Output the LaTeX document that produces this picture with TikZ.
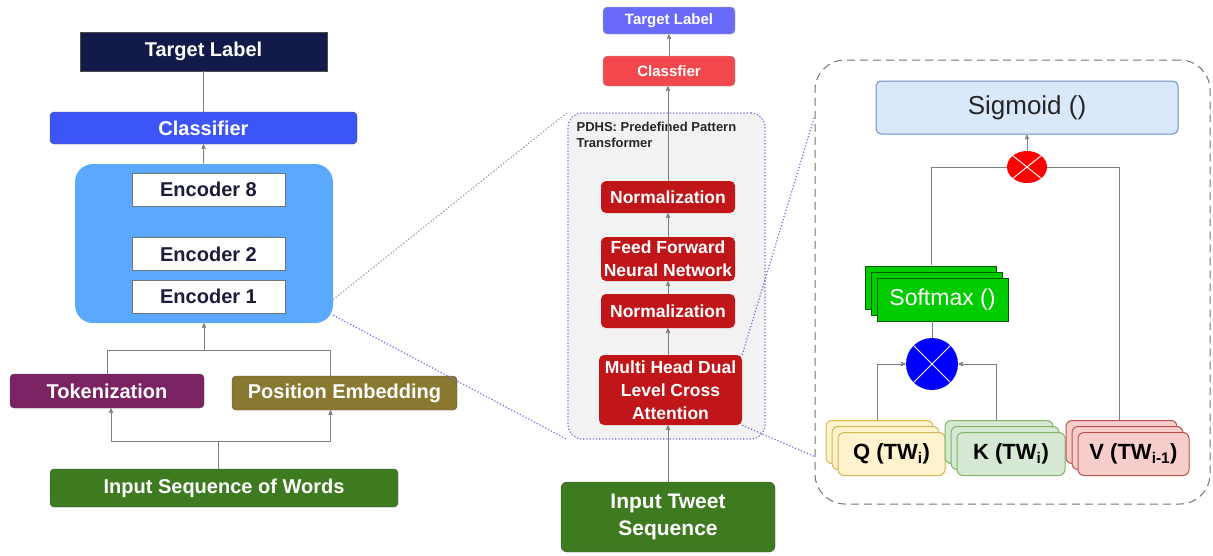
\documentclass[tikz,border=0pt]{standalone}
\usepackage{fontspec}
\setmainfont{Liberation Sans}
\usetikzlibrary{positioning}
\usetikzlibrary{arrows}
\usetikzlibrary{shapes.geometric}
\usetikzlibrary{shadows}
\definecolor{navyLab}{RGB}{17,26,72}
\definecolor{clsBlue}{RGB}{59,85,247}
\definecolor{encBlue}{RGB}{90,169,255}
\definecolor{encText}{RGB}{27,27,58}
\definecolor{tokPurple}{RGB}{123,34,99}
\definecolor{posOlive}{RGB}{136,120,48}
\definecolor{inGreen}{RGB}{62,122,31}
\definecolor{tgtViolet}{RGB}{106,106,248}
\definecolor{cfRed}{RGB}{242,71,76}
\definecolor{boxRed}{RGB}{192,22,26}
\definecolor{zoomBlue}{RGB}{110,110,220}
\definecolor{sigFill}{RGB}{218,232,252}
\definecolor{sigDraw}{RGB}{108,142,191}
\definecolor{smxGreen}{RGB}{0,204,0}
\definecolor{smxDraw}{RGB}{0,90,0}
\definecolor{qFill}{RGB}{255,242,204}
\definecolor{qDraw}{RGB}{214,182,86}
\definecolor{kFill}{RGB}{213,232,212}
\definecolor{kDraw}{RGB}{130,179,102}
\definecolor{vFill}{RGB}{248,206,204}
\definecolor{vDraw}{RGB}{184,84,80}
\tikzset{
    leftbox/.style={
        rectangle,
        rounded corners=4pt,
        draw=black!70,
        text=white,
        align=center,
        inner sep=0pt,
        font=\bfseries\fontsize{20}{24}\selectfont},
    encoder/.style={
        rectangle,
        draw=black!55,
        fill=white,
        text=encText,
        minimum width=153,
        minimum height=33,
        font=\bfseries\fontsize{20}{24}\selectfont},
    redbox/.style={
        rectangle,
        rounded corners=5pt,
        fill=boxRed,
        text=white,
        align=center,
        inner sep=0pt,
        minimum width=134,
        font=\bfseries\fontsize{17.5}{23}\selectfont},
    topbox/.style={
        rectangle,
        rounded corners=4pt,
        draw=black!30,
        text=white,
        minimum width=132,
        font=\bfseries\fontsize{15}{18}\selectfont},
    stack/.style={
        rectangle,
        rounded corners=6pt,
        line width=1pt,
        minimum height=43,
        double copy shadow={shadow xshift=-6pt, shadow yshift=6pt},
        font=\bfseries\fontsize{22}{26}\selectfont},
    mult/.style={
        path picture={
            \draw[white, line width=1pt]
                (path picture bounding box.north west) -- (path picture bounding box.south east)
                (path picture bounding box.north east) -- (path picture bounding box.south west);}},
    line/.style={
        draw=black!50,
        line width=0.8pt},
    arr/.style={
        line,
        ->,>=stealth'},
    zoomline/.style={
        dotted,
        line width=1.2pt,
        draw=zoomBlue}}
\begin{document}
\begin{tikzpicture}[x=1pt,y=-1pt]
        \useasboundingbox (0,0) rectangle (1213,555);

        % left: encoder model
        \node[leftbox,fill=navyLab,rounded corners=0pt,minimum width=247,minimum height=39] (tgtL) at (203.5,51.5) {Target Label};
        \node[leftbox,fill=clsBlue,minimum width=307,minimum height=32] (clsL) at (203.5,128) {Classifier};
        \node[rectangle,rounded corners=18pt,fill=encBlue,minimum width=258,minimum height=159] (encbox) at (204,243.5) {};
        \node[encoder] (enc1) at (208.5,296.5) {Encoder 1};
        \node[encoder,above=9pt of enc1] (enc2) {Encoder 2};
        \node[encoder,above=31pt of enc2] (enc8) {Encoder 8};
        \node[leftbox,fill=tokPurple,minimum width=194,minimum height=34] (tok) at (107,391) {Tokenization};
        \node[leftbox,fill=posOlive,minimum width=225,minimum height=34] (pos) at (344.5,393) {Position Embedding};
        \node[leftbox,fill=inGreen,minimum width=348,minimum height=38] (inp) at (224,488) {Input Sequence of Words};
        \coordinate (mergeL) at (204,350);
        \coordinate (splitL) at (218,441);

        \draw[line] (tgtL) -- (clsL);
        \draw[arr] (encbox) -- (clsL);
        \draw[line] (tok.north) |- (mergeL);
        \draw[line] ([xshift=-14pt]pos.north) |- (mergeL);
        \draw[arr] (mergeL) -- (encbox.south);
        \draw[line] ([xshift=-6pt]inp.north) -- (splitL);
        \draw[arr] (splitL) -| ([xshift=4pt]tok.south);
        \draw[arr] (splitL) -| ([xshift=-14pt]pos.south);

        % middle: PDHS transformer
        \node[rectangle,rounded corners=14pt,dotted,line width=1.2pt,draw=zoomBlue,fill=black!5,minimum width=197,minimum height=326] (pdhs) at (666.5,276) {};
        \node[anchor=north west,align=left,inner sep=0pt,text=black!85,font=\bfseries\fontsize{13}{16}\selectfont] (pdhsT) at ([xshift=9pt,yshift=-9pt]pdhs.north west) {PDHS: Predefined Pattern\\Transformer};
        \node[topbox,fill=tgtViolet,minimum height=27] (tgtM) at (669,20.5) {Target Label};
        \node[topbox,fill=cfRed,minimum height=30] (cfM) at (669,71) {Classfier};
        \node[redbox,minimum height=32] (norm2) at (668,197) {Normalization};
        \node[redbox,minimum height=44] (ffnn) at (668,259) {Feed Forward\\Neural Network};
        \node[redbox,minimum height=34] (norm1) at (668,311) {Normalization};
        \node[redbox,minimum width=143,minimum height=70] (mhca) at (670.5,390) {Multi Head Dual\\Level Cross\\Attention};
        \node[leftbox,fill=inGreen,rounded corners=6pt,minimum width=214,minimum height=70,font=\bfseries\fontsize{21}{27}\selectfont] (tweet) at (668,517) {Input Tweet\\Sequence};

        \draw[arr] (tweet.north -| norm1) -- (mhca.south -| norm1);
        \draw[arr] (mhca.north -| norm1) -- (norm1);
        \draw[arr] (norm1) -- (ffnn);
        \draw[arr] (ffnn) -- (norm2);
        \draw[arr] (norm2.north) -- (cfM.south -| norm2);
        \draw[arr] (cfM) -- (tgtM);

        % right: dual level cross attention
        \node[rectangle,rounded corners=30pt,dashed,dash pattern=on 8pt off 5pt,line width=1pt,draw=black!55,minimum width=395,minimum height=444] (rbox) at (1012.5,282) {};
        \node[rectangle,rounded corners=5pt,fill=sigFill,draw=sigDraw,line width=1pt,minimum width=302,minimum height=53,text=black!85,font=\fontsize{26}{30}\selectfont] (sig) at (1027,107.5) {Sigmoid ()};
        \node[ellipse,fill=red,mult,minimum width=40,minimum height=32] (rx) at (1027,167) {};
        \node[rectangle,fill=smxGreen,draw=smxDraw,double copy shadow={shadow xshift=-6pt, shadow yshift=6pt},minimum width=131,minimum height=43,text=white,font=\fontsize{23}{27}\selectfont] (smx) at (942.5,299.5) {Softmax ()};
        \node[circle,fill=blue,mult,minimum size=52] (bx) at (932,364) {};
        \node[stack,fill=qFill,draw=qDraw,minimum width=107] (qq) at (891.5,454) {Q (TW\textsubscript{i})};
        \node[stack,fill=kFill,draw=kDraw,minimum width=108] (kk) at (1011,454) {K (TW\textsubscript{i})};
        \node[stack,fill=vFill,draw=vDraw,minimum width=111] (vv) at (1133.5,454) {V (TW\textsubscript{i-1})};

        \draw[arr] (rx) -- (sig);
        \draw[line] ([xshift=-11pt,yshift=13pt]smx.north) |- (rx.west);
        \draw[line] ([xshift=-14pt,yshift=12pt]vv.north) |- (rx.east);
        \draw[line] (bx.north) -- (bx.north |- smx.south);
        \draw[arr] ([xshift=-14pt,yshift=12pt]qq.north) |- (bx.west);
        \draw[arr] ([xshift=-15pt,yshift=12pt]kk.north) |- (bx.east);

        % zoom lines
        \draw[zoomline,draw=black!40] ([yshift=-56pt]encbox.east) -- (pdhs.north west);
        \draw[zoomline] ([yshift=8pt]encbox.south east) -- (pdhs.south west);
        \draw[zoomline] (mhca.north east) -- ([yshift=-57pt]rbox.north west);
        \draw[zoomline] (mhca.south east) -- ([yshift=48pt]rbox.south west);
    \end{tikzpicture}
\end{document}
